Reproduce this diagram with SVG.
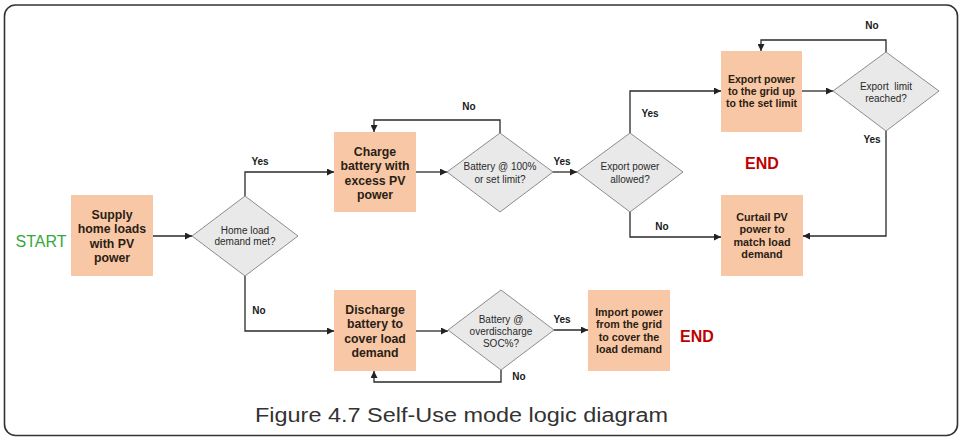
<svg xmlns="http://www.w3.org/2000/svg" width="960" height="437" viewBox="0 0 960 437">
<defs>
<marker id="ah" viewBox="0 0 10 10" refX="10" refY="5" markerWidth="7" markerHeight="7" markerUnits="userSpaceOnUse" orient="auto">
<path d="M0,0 L10,5 L0,10 z" fill="#222"/>
</marker>
</defs>
<style>
.frame{fill:#fff;stroke:#333;stroke-width:1.6}
.box{fill:#f8c8a6;stroke:none}
.dia{fill:#e9e9e9;stroke:#8c8c8c;stroke-width:1}
.bt{font-family:"Liberation Sans",Arial,sans-serif;font-weight:bold;fill:#2b1d14;text-anchor:middle}
.dt{font-family:"Liberation Sans",Arial,sans-serif;font-size:10px;fill:#2a2a2a;text-anchor:middle}
.lb{font-family:"Liberation Sans",Arial,sans-serif;font-size:10px;font-weight:bold;fill:#1a1a1a;text-anchor:middle}
.con path{fill:none;stroke:#2a2a2a;stroke-width:1.3;marker-end:url(#ah)}
.end{font-family:"Liberation Sans",Arial,sans-serif;font-size:16px;font-weight:bold;fill:#c00000;text-anchor:middle}
</style>
<rect class="frame" x="4.5" y="5" width="953" height="430.5" rx="11"/>

<g id="connectors" class="con">
<path d="M153,236 H192"/>
<path d="M245,196 V172 H334"/>
<path d="M245,276 V331 H334"/>
<path d="M416,172 H447"/>
<path d="M500,133 V120 H374 V132"/>
<path d="M553,172 H577"/>
<path d="M630,133 V91 H721"/>
<path d="M630,212 V237 H721"/>
<path d="M802,91 H833"/>
<path d="M886,52 V40 H761 V51"/>
<path d="M886,131 V236 H803"/>
<path d="M416,331 H448"/>
<path d="M501,370 V382 H374 V371"/>
<path d="M554,330 H588"/>
</g>

<g id="labels">
<text class="lb" x="260" y="164.5">Yes</text>
<text class="lb" x="259" y="313.5">No</text>
<text class="lb" x="469" y="109.5">No</text>
<text class="lb" x="562" y="164.5">Yes</text>
<text class="lb" x="650" y="116.5">Yes</text>
<text class="lb" x="662" y="229.5">No</text>
<text class="lb" x="872" y="28.5">No</text>
<text class="lb" x="872" y="142.5">Yes</text>
<text class="lb" x="562" y="322.5">Yes</text>
<text class="lb" x="519" y="379.5">No</text>
</g>

<g id="start">
<text x="41" y="247" font-family="Liberation Sans, Arial, sans-serif" font-size="16" fill="#36a83a" text-anchor="middle">START</text>
</g>

<g id="supply">
<rect class="box" x="71" y="195" width="82" height="81"/>
<text class="bt" font-size="12.3" x="112" y="218.5">Supply</text>
<text class="bt" font-size="12.3" x="112" y="233">home loads</text>
<text class="bt" font-size="12.3" x="112" y="247.5">with PV</text>
<text class="bt" font-size="12.3" x="112" y="262">power</text>
</g>

<g id="home-load">
<polygon class="dia" points="245,196 298,236 245,276 192,236"/>
<text class="dt" x="245" y="233.5">Home load</text>
<text class="dt" x="245" y="245">demand met?</text>
</g>

<g id="charge">
<rect class="box" x="334" y="132" width="82" height="80"/>
<text class="bt" font-size="12.3" x="375" y="155.5">Charge</text>
<text class="bt" font-size="12.3" x="375" y="170">battery with</text>
<text class="bt" font-size="12.3" x="375" y="184.5">excess PV</text>
<text class="bt" font-size="12.3" x="375" y="199">power</text>
</g>

<g id="battery-full">
<polygon class="dia" points="500,133 553,172 500,212 447,172"/>
<text class="dt" x="500" y="170">Battery @ 100%</text>
<text class="dt" x="500" y="182.5">or set limit?</text>
</g>

<g id="export-allowed">
<polygon class="dia" points="630,133 683,172 630,212 577,172"/>
<text class="dt" x="630" y="169.5">Export power</text>
<text class="dt" x="630" y="182.5">allowed?</text>
</g>

<g id="export">
<rect class="box" x="721" y="51" width="81" height="81"/>
<text class="bt" font-size="10.5" x="761.5" y="83">Export power</text>
<text class="bt" font-size="10.5" x="761.5" y="95">to the grid up</text>
<text class="bt" font-size="10.5" x="761.5" y="107">to the set limit</text>
</g>

<g id="limit-reached">
<polygon class="dia" points="886,52 939,91 886,131 833,91"/>
<text class="dt" x="886" y="89.5" xml:space="preserve">Export  limit</text>
<text class="dt" x="886" y="102">reached?</text>
</g>

<g id="end1">
<text class="end" x="762" y="169">END</text>
</g>

<g id="curtail">
<rect class="box" x="721" y="195" width="82" height="81"/>
<text class="bt" font-size="10.8" x="762" y="220.5">Curtail PV</text>
<text class="bt" font-size="10.8" x="762" y="233">power to</text>
<text class="bt" font-size="10.8" x="762" y="245.5">match load</text>
<text class="bt" font-size="10.8" x="762" y="258">demand</text>
</g>

<g id="discharge">
<rect class="box" x="334" y="290" width="82" height="81"/>
<text class="bt" font-size="12.3" x="375" y="313.5">Discharge</text>
<text class="bt" font-size="12.3" x="375" y="328">battery to</text>
<text class="bt" font-size="12.3" x="375" y="342.5">cover load</text>
<text class="bt" font-size="12.3" x="375" y="357">demand</text>
</g>

<g id="overdischarge">
<polygon class="dia" points="501,290 554,330 501,370 448,330"/>
<text class="dt" x="501" y="322.5">Battery @</text>
<text class="dt" x="501" y="335">overdischarge</text>
<text class="dt" x="501" y="346.5">SOC%?</text>
</g>

<g id="import">
<rect class="box" x="588" y="290" width="82" height="81"/>
<text class="bt" font-size="10.7" x="629" y="315.5">Import power</text>
<text class="bt" font-size="10.7" x="629" y="328">from the grid</text>
<text class="bt" font-size="10.7" x="629" y="340.5">to cover the</text>
<text class="bt" font-size="10.7" x="629" y="353">load demand</text>
</g>

<g id="end2">
<text class="end" x="697" y="342">END</text>
</g>

<text x="255" y="422" font-family="'Liberation Sans', Arial, sans-serif" font-size="20" fill="#333" textLength="413" lengthAdjust="spacingAndGlyphs">Figure 4.7 Self-Use mode logic diagram</text>
</svg>
